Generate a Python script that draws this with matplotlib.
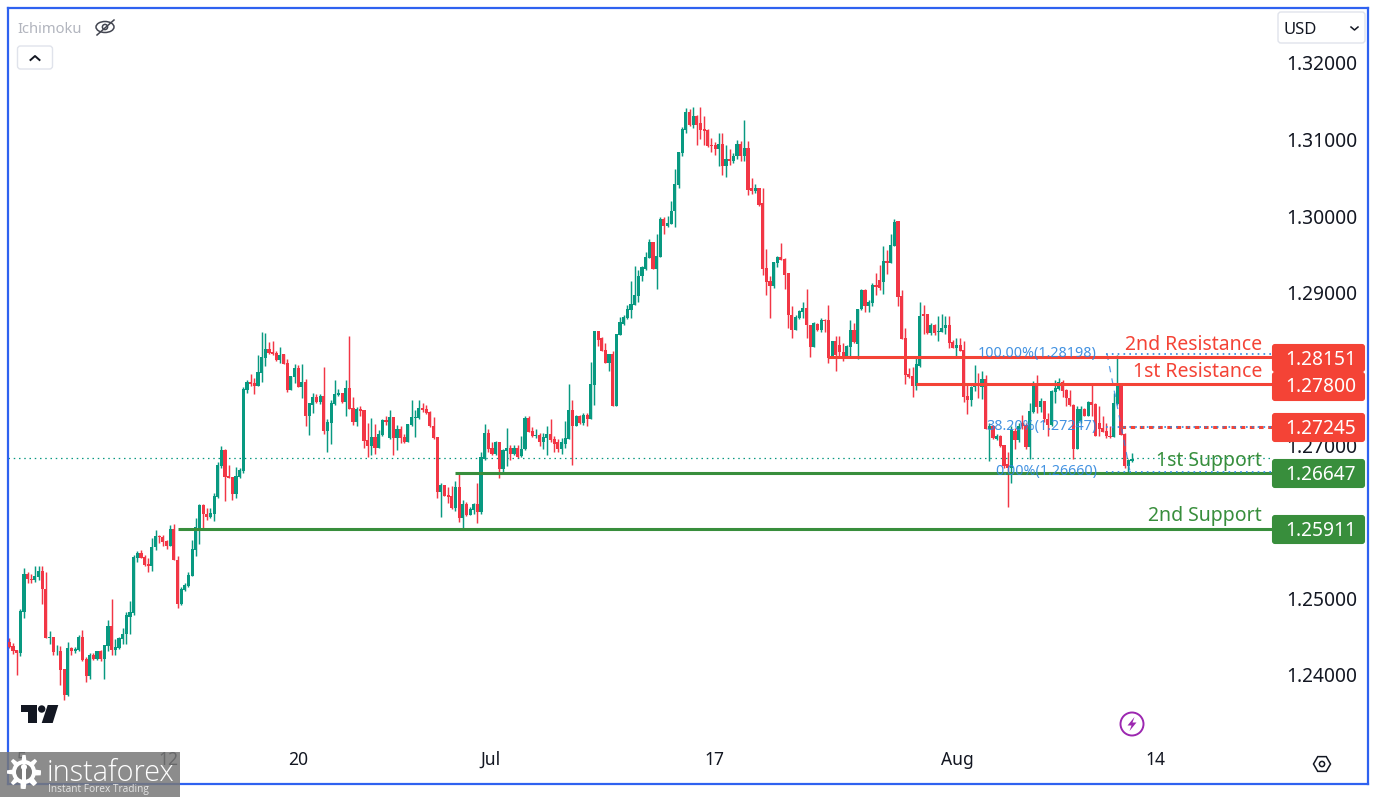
import numpy as np
import matplotlib
matplotlib.use("Agg")
import matplotlib.pyplot as plt
from matplotlib.patches import FancyBboxPatch, Rectangle, Polygon, Circle, PathPatch, Ellipse

plt.rcParams['font.family'] = ['Noto Sans', 'DejaVu Sans']

# Prices in 1/10000 units
open_pts = [
12443,12438,12433,12429,12483,12532,12525,12524,12528,12536,
12513,12449,12450,12431,12432,12408,12374,12435,12431,12433,
12450,12421,12399,12426,12421,12431,12421,12438,12464,12433,
12435,12447,12453,12476,12481,12553,12559,12554,12545,12542,
12567,12582,12580,12575,12569,12591,12550,12493,12511,12516,
12530,12563,12592,12622,12611,12607,12611,12633,12673,12694,
12660,12659,12637,12659,12667,12773,12783,12782,12778,12795,
12815,12826,12822,12821,12812,12819,12808,12772,12790,12801,
12776,12783,12739,12753,12763,12757,12765,12719,12730,12754,
12766,12769,12757,12775,12749,12731,12748,12746,12707,12699,
12711,12697,12714,12733,12710,12737,12710,12722,12711,12704,
12727,12736,12736,12749,12748,12744,12725,12711,12639,12648,
12635,12634,12618,12646,12605,12623,12609,12616,12623,12613,
12682,12716,12697,12689,12705,12669,12693,12697,12689,12697,
12686,12695,12736,12719,12712,12714,12705,12710,12715,12708,
12704,12696,12702,12709,12747,12726,12739,12730,12740,12734,
12779,12850,12840,12825,12808,12819,12752,12845,12859,12867,
12877,12884,12896,12921,12931,12945,12966,12931,12947,12996,
12987,12990,13006,13041,13083,13113,13136,13119,13131,13121,
13114,13113,13093,13093,13087,13094,13066,13075,13072,13078,
13094,13078,13089,13036,13033,13036,13017,12932,12915,12908,
12939,12947,12944,12925,12871,12851,12867,12875,12880,12858,
12829,12859,12851,12864,12864,12814,12837,12832,12822,12815,
12829,12851,12833,12878,12903,12883,12886,12910,12916,12914,
12941,12939,12961,12994,12896,12841,12794,12791,12778,12804,
12872,12872,12847,12858,12848,12849,12853,12858,12835,12828,
12832,12825,12765,12760,12776,12781,12777,12787,12722,12726,
12709,12713,12700,12676,12670,12719,12707,12729,12727,12698,
12744,12782,12750,12758,12734,12727,12770,12774,12783,12773,
12762,12753,12696,12732,12748,12739,12757,12754,12729,12723,
12719,12713,12711,12754,12781,12715,12673,12680]

close_pts = [
12437,12431,12429,12484,12532,12525,12524,12529,12536,12513,
12449,12450,12430,12432,12407,12374,12435,12431,12434,12450,
12419,12399,12426,12421,12431,12421,12439,12464,12433,12436,
12448,12454,12478,12482,12554,12560,12553,12544,12542,12567,
12582,12580,12574,12569,12591,12550,12493,12513,12518,12531,
12565,12593,12622,12610,12607,12612,12634,12674,12694,12659,
12658,12637,12660,12668,12774,12783,12781,12778,12796,12816,
12826,12821,12820,12812,12818,12806,12772,12791,12801,12776,
12783,12739,12755,12763,12757,12765,12719,12731,12756,12767,
12769,12757,12775,12748,12731,12748,12745,12706,12699,12711,
12697,12715,12733,12731,12737,12710,12722,12710,12704,12728,
12737,12737,12749,12746,12742,12725,12710,12639,12648,12634,
12633,12618,12646,12605,12623,12609,12617,12623,12613,12685,
12716,12695,12689,12705,12669,12694,12697,12689,12697,12685,
12695,12736,12718,12712,12714,12705,12711,12715,12707,12702,
12696,12704,12710,12747,12726,12739,12730,12740,12734,12781,
12850,12838,12824,12808,12819,12752,12846,12861,12868,12879,
12885,12897,12922,12933,12947,12966,12931,12948,12996,12987,
12991,13007,13042,13084,13114,13136,13119,13131,13119,13113,
13111,13092,13092,13087,13094,13066,13075,13072,13079,13094,
13078,13089,13034,13033,13036,13015,12931,12914,12908,12940,
12947,12943,12923,12870,12851,12868,12876,12880,12857,12829,
12860,12851,12864,12863,12814,12837,12818,12822,12815,12830,
12851,12835,12879,12903,12883,12887,12910,12907,12906,12941,
12939,12962,12992,12894,12839,12792,12789,12778,12806,12869,
12869,12847,12858,12847,12850,12854,12858,12834,12828,12832,
12824,12764,12760,12777,12781,12779,12787,12722,12726,12710,
12713,12699,12673,12670,12720,12707,12726,12725,12698,12745,
12782,12750,12758,12734,12727,12771,12775,12783,12771,12762,
12753,12696,12748,12748,12739,12757,12753,12713,12722,12718,
12712,12711,12756,12781,12714,12673,12681,12683]

high_pts = [
12449,12442,12433,12486,12540,12534,12532,12543,12543,12543,
12535,12457,12450,12439,12438,12408,12443,12437,12437,12452,
12459,12423,12429,12429,12432,12433,12439,12472,12499,12447,
12450,12461,12483,12497,12557,12562,12563,12557,12553,12579,
12590,12583,12583,12577,12596,12598,12556,12515,12520,12535,
12577,12605,12624,12624,12618,12618,12638,12678,12699,12695,
12674,12659,12672,12670,12777,12786,12793,12788,12818,12848,
12847,12835,12837,12824,12829,12820,12813,12791,12806,12805,
12806,12787,12756,12768,12767,12767,12803,12735,12760,12786,
12774,12769,12786,12843,12763,12750,12752,12747,12730,12736,
12728,12720,12735,12739,12747,12737,12727,12725,12715,12728,
12759,12746,12759,12756,12753,12745,12737,12711,12651,12648,
12646,12647,12654,12666,12629,12626,12620,12625,12651,12691,
12728,12722,12705,12706,12705,12696,12723,12701,12701,12701,
12712,12739,12738,12724,12721,12716,12716,12726,12735,12713,
12708,12710,12732,12781,12760,12740,12740,12742,12742,12809,
12850,12850,12842,12834,12820,12824,12846,12868,12870,12884,
12915,12935,12930,12934,12953,12970,12966,12977,12999,12999,
13000,13019,13062,13084,13116,13141,13140,13142,13132,13142,
13131,13114,13102,13097,13108,13108,13093,13087,13082,13100,
13098,13126,13098,13050,13042,13037,13036,12957,12921,12940,
12948,12965,12945,12925,12883,12870,12877,12887,12905,12858,
12861,12860,12867,12866,12884,12837,12843,12843,12834,12832,
12864,12860,12879,12904,12904,12890,12912,12925,12936,12961,
12956,12977,12996,12994,12903,12854,12801,12803,12816,12887,
12884,12872,12860,12859,12869,12872,12869,12869,12838,12840,
12840,12837,12779,12778,12805,12795,12798,12792,12729,12727,
12715,12714,12701,12692,12725,12723,12729,12740,12729,12755,
12784,12792,12762,12758,12742,12773,12786,12788,12786,12774,
12773,12754,12751,12751,12749,12758,12781,12755,12751,12738,
12729,12725,12768,12818,12781,12716,12682,12690]

low_pts = [
12435,12428,12400,12425,12474,12520,12520,12522,12524,12493,
12449,12441,12426,12426,12387,12367,12373,12426,12429,12431,
12418,12391,12395,12419,12419,12418,12395,12431,12426,12426,
12434,12441,12441,12454,12479,12548,12553,12542,12534,12536,
12563,12572,12568,12565,12569,12550,12487,12492,12510,12515,
12529,12556,12571,12592,12602,12605,12601,12631,12671,12627,
12657,12629,12632,12658,12664,12768,12778,12767,12778,12783,
12804,12820,12818,12811,12808,12806,12770,12772,12782,12776,
12762,12725,12714,12742,12755,12754,12715,12691,12702,12753,
12765,12756,12739,12748,12727,12725,12739,12697,12685,12688,
12689,12697,12712,12727,12709,12688,12694,12703,12703,12704,
12725,12711,12735,12744,12741,12724,12709,12632,12607,12634,
12625,12617,12615,12600,12592,12608,12609,12610,12599,12610,
12681,12691,12688,12688,12657,12664,12673,12681,12688,12684,
12685,12694,12717,12711,12710,12700,12696,12688,12705,12692,
12692,12689,12697,12708,12674,12725,12728,12727,12726,12734,
12753,12830,12823,12808,12798,12751,12752,12844,12857,12866,
12867,12884,12887,12915,12930,12945,12931,12904,12947,12977,
12986,12989,12985,13037,13078,13108,13117,13115,13093,13101,
13093,13090,13084,13080,13066,13054,13051,13067,13069,13075,
13072,13072,13028,13029,13030,13013,12923,12897,12867,12906,
12933,12942,12905,12854,12840,12851,12866,12867,12840,12816,
12829,12850,12848,12849,12808,12814,12798,12814,12811,12814,
12814,12834,12813,12877,12875,12875,12882,12897,12903,12898,
12924,12938,12961,12882,12839,12781,12788,12764,12773,12803,
12846,12846,12845,12845,12836,12848,12846,12828,12827,12815,
12823,12757,12741,12751,12771,12762,12761,12722,12680,12708,
12707,12698,12670,12620,12651,12696,12705,12721,12696,12683,
12742,12742,12744,12731,12713,12725,12755,12773,12764,12751,
12751,12683,12696,12729,12738,12738,12739,12712,12712,12717,
12710,12710,12711,12753,12714,12670,12666,12679]

y_ticks = [1.32, 1.31, 1.30, 1.29, 1.28, 1.27, 1.26, 1.25, 1.24]
x_tick_bars = [3.5, 43.4, 78.9, 131.7, 192.7, 259.2, 313.4]
x_tick_labels = ["5", "12", "20", "Jul", "17", "Aug", "14"]

level_prices = [1.28151, 1.27800, 1.27245, 1.26647, 1.25911]
level_start_bar = [224, 248, 304, 122, 46]
level_names = ["2nd Resistance", "1st Resistance", None, "1st Support", "2nd Support"]
last_price = 1.26840
fib_prices = [1.28198, 1.27247, 1.26660]
fib_labels = ["100.00%(1.28198)", "38.20%(1.27247)", "0.00%(1.26660)"]

GREEN, RED = "#089981", "#F23645"
LRED, LGREEN = "#F44336", "#388E3C"
BLUE = "#2F62F0"
FIB = "#2E86DE"
W, H = 1376, 797

o = np.array(open_pts) / 1e4
c = np.array(close_pts) / 1e4
h = np.array(high_pts) / 1e4
l = np.array(low_pts) / 1e4
idx = np.arange(len(o))
pxbar = 3.657
x0 = 9.3

fig = plt.figure(figsize=(W / 100, H / 100), dpi=100, facecolor="white")
ax = fig.add_axes([8 / W, 1 - 784 / H, 1360 / W, 776 / H], facecolor="white")
ax.set_xlim((8 - x0) / pxbar, (1368 - x0) / pxbar)
ax.set_ylim(1.32 - 721 / 7650, 1.32 + 55 / 7650)
for s in ax.spines.values():
    s.set_color(BLUE)
    s.set_linewidth(1.6)

up = c >= o
cols = np.where(up, GREEN, RED)
ax.vlines(idx, l, h, colors=cols, linewidth=1.05, zorder=2)
ax.bar(idx, np.maximum(np.abs(c - o), 0.00006), bottom=np.minimum(o, c), width=0.86,
       color=cols, linewidth=0, zorder=3)

ax.set_yticks(y_ticks)
ax.set_yticklabels([f"{t:.5f}" for t in y_ticks])
ax.yaxis.tick_right()
ax.tick_params(axis="y", length=0, pad=-59, labelsize=13.8, labelcolor="#131722")
ax.set_xticks(x_tick_bars)
ax.set_xticklabels(x_tick_labels)
ax.tick_params(axis="x", length=0, pad=-24, labelsize=12.6, labelcolor="#131722")

end_bar = (1272 - x0) / pxbar
ax.hlines(last_price, ax.get_xlim()[0], end_bar, colors=GREEN, linewidth=0.9,
          linestyles=(0, (1.2, 3)), zorder=2)

styles = [(LRED, "-"), (LRED, "-"), (LRED, (0, (1.5, 1.5))), (LGREEN, "-"), (LGREEN, "-")]
for p, sb, (col, ls) in zip(level_prices, level_start_bar, styles):
    ax.hlines(p, sb, end_bar, colors=col, linewidth=2.2, linestyles=ls, zorder=5)

for p, lbl in zip(fib_prices, fib_labels):
    ax.hlines(p, (1106 - x0) / pxbar, end_bar, colors=FIB, linewidth=1.2,
              linestyles=(0, (1, 2.5)), zorder=6)
    ax.text((1097 - x0) / pxbar, p, lbl, color=FIB, fontsize=10.3, ha="right",
            va="center", alpha=0.9, zorder=6)
ax.plot([(1107 - x0) / pxbar, (1130 - x0) / pxbar], [fib_prices[0], fib_prices[2]],
        color=FIB, lw=0.9, ls=(0, (5, 5)), zorder=4, alpha=0.8)

# overlay in pixel coordinates for the interface furniture
ov = fig.add_axes([0, 0, 1, 1], facecolor="none")
ov.set_xlim(0, W)
ov.set_ylim(H, 0)
ov.axis("off")


def ypx(p):
    return 63 + (1.32 - p) * 7650


boxes = [(344, 372), (372, 401), (413, 442), (459, 488), (515, 544)]
box_cols = [LRED, LRED, LRED, LGREEN, LGREEN]
for (y0, y1), col, p in zip(boxes, box_cols, level_prices):
    ov.add_patch(FancyBboxPatch((1273, y0 + 1), 91, y1 - y0 - 2,
                                boxstyle="round,pad=0,rounding_size=2", fc=col, ec=col, lw=1.5))
    ov.text(1321, ypx(p), f"{p:.5f}", color="white", fontsize=13.8, ha="center",
            va="center_baseline", fontweight="semibold")

name_y = [342, 369, None, 458, 514]
for name, y, col in zip(level_names, name_y, box_cols):
    if name:
        ov.text(1262, y, name, color=col, fontsize=14.0, ha="right", va="center_baseline",
                fontweight="semibold")

# Legend header
ov.text(17, 27, "Ichimoku", color="#B2B5BE", fontsize=10.6, ha="left", va="center_baseline")
ov.add_patch(Ellipse((105, 27), 18, 11, fc="none", ec="#434651", lw=1.1))
ov.add_patch(Circle((105, 27), 2.6, fc="none", ec="#434651", lw=1.1))
ov.plot([97, 114], [35, 20], color="#434651", lw=1.1)
ov.add_patch(FancyBboxPatch((17.5, 46), 35, 23, boxstyle="round,pad=0,rounding_size=3",
                            fc="white", ec="#E0E3EB", lw=1))
ov.plot([30.5, 35, 39.5], [60, 56, 60], color="#131722", lw=1.4)

# Currency button
ov.add_patch(FancyBboxPatch((1278, 12), 87, 31, boxstyle="round,pad=0,rounding_size=3",
                            fc="white", ec="#E0E3EB", lw=1))
ov.text(1300, 28, "USD", color="#131722", fontsize=12, ha="center", va="center_baseline")
ov.plot([1351, 1354.5, 1358], [27, 30, 27], color="#131722", lw=1.1)

# TradingView mark
ov.add_patch(Polygon([(21, 705), (36.7, 705), (36.7, 723), (28.3, 723), (28.3, 712.3), (21, 712.3)],
                     fc="#131722", ec="none"))
ov.add_patch(Circle((41.7, 709), 3.7, fc="#131722", ec="none"))
ov.add_patch(Polygon([(47.7, 705), (58.3, 705), (52.7, 723), (41.7, 723)], fc="#131722", ec="none"))

# Lightning badge
ov.add_patch(Circle((1132, 724), 11.5, fc="white", ec="#9C27B0", lw=1.4))
ov.add_patch(Polygon([(1134.5, 717), (1127.5, 725.5), (1131.5, 725.5), (1129.5, 731),
                      (1136.5, 722.5), (1132.5, 722.5)], fc="#9C27B0", ec="none"))

# Settings hexagon
ang = np.deg2rad(np.arange(0, 360, 60))
ov.add_patch(Polygon(np.c_[1322 + 8.5 * np.cos(ang), 764 + 8.5 * np.sin(ang)], fc="white",
                     ec="#131722", lw=1.1))
ov.add_patch(Circle((1322, 764), 2.6, fc="white", ec="#131722", lw=1.1))

# Watermark
ov.add_patch(Rectangle((0, 752), 180, 45, fc="#787878", ec="none", alpha=0.85))
tang = np.linspace(0, 2 * np.pi, 64, endpoint=False)
trad = 14.5 + 2.5 * np.sign(np.cos(tang * 8))
ov.add_patch(Polygon(np.c_[24 + trad * np.cos(tang), 772 + trad * np.sin(tang)], fc="white", ec="none"))
ov.add_patch(Circle((24, 772), 8, fc="#787878", ec="none"))
ov.add_patch(Rectangle((22.3, 766), 3.4, 20, fc="white", ec="none"))
ov.add_patch(Circle((24, 767), 3, fc="white", ec="none"))
ov.text(47, 770, "instaforex", color="white", fontsize=20.8, ha="left", va="center_baseline",
        family=["Open Sans", "DejaVu Sans"], fontweight="light")
ov.text(48, 788, "Instant Forex Trading", color="#E4E4E4", fontsize=7.3, ha="left",
        va="center_baseline", family=["Open Sans", "DejaVu Sans"])

fig.savefig("out.png", dpi=100)
